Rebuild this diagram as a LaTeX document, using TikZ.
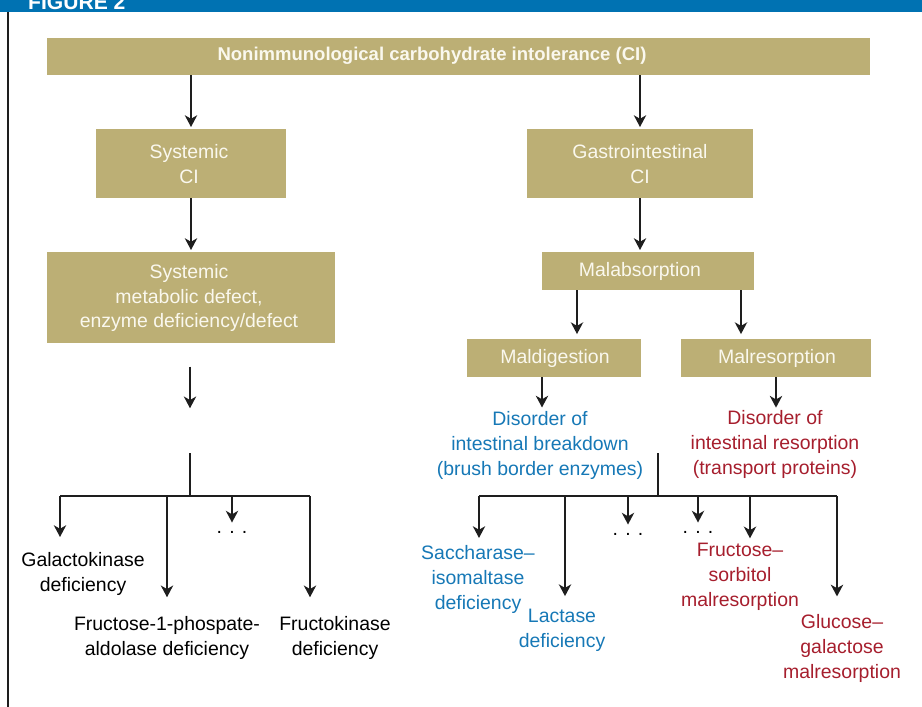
\documentclass[tikz,border=0pt]{standalone}
\usepackage{fontspec}
\setmainfont{Liberation Sans}
\usetikzlibrary{arrows.meta, positioning}
\definecolor{figBlue}{RGB}{0,114,178}
\definecolor{boxTan}{RGB}{188,175,117}
\definecolor{boxText}{RGB}{250,248,238}
\definecolor{breakBlue}{RGB}{22,120,182}
\definecolor{resorbRed}{RGB}{166,30,45}
\definecolor{lineDark}{RGB}{30,30,30}

\begin{document}
\begin{tikzpicture}[x=0.03cm, y=-0.03cm,
    tanbox/.style={fill=boxTan, inner sep=0pt},
    boxlabel/.style={text=boxText, inner sep=0pt, align=center, font=\fontsize{16.6}{21.3}\selectfont},
    leaf/.style={inner sep=0pt, align=center, anchor=north, font=\fontsize{16.6}{21.3}\selectfont},
    dotsnode/.style={inner sep=0pt, font=\fontsize{16.6}{21.3}\selectfont},
    arr/.style={-{Stealth[length=10pt, width=10.5pt, inset=3pt]}, line width=1.6pt, draw=lineDark, shorten >=1.5pt},
    ln/.style={line width=1.6pt, draw=lineDark}]
    \useasboundingbox (0,0) rectangle (922,707);

    % Figure header bar
    \fill[figBlue] (0,0) rectangle (922,12);
    \begin{scope}
        \clip (0,0) rectangle (922,12);
        \node[anchor=base west, inner sep=0pt, text=white, font=\fontsize{18}{20}\selectfont\bfseries] (figtitle) at (28,10) {FIGURE 2};
    \end{scope}
    \draw[line width=1.3pt, lineDark] (8,12) -- (8,707);

    % Top box
    \node[tanbox, minimum width=24.69cm, minimum height=1.11cm] (ci) at (458.5,56.5) {};
    \node[boxlabel, font=\fontsize{15.8}{20}\selectfont\bfseries] (citext) at (432,56) {Nonimmunological carbohydrate intolerance (CI)};

    % Systemic branch
    \node[tanbox, minimum width=5.70cm, minimum height=2.07cm] (sys) at (191,163.5) {};
    \node[boxlabel] (systext) at (189,164) {Systemic\\CI};
    \node[tanbox, minimum width=8.64cm, minimum height=2.73cm] (met) at (191,297.5) {};
    \node[boxlabel] (mettext) at (189,298) {Systemic\\metabolic defect,\\enzyme deficiency/defect};

    % Gastrointestinal branch
    \node[tanbox, minimum width=6.78cm, minimum height=2.07cm] (gi) at (640,163.5) {};
    \node[boxlabel] (gitext) at (640,164) {Gastrointestinal\\CI};
    \node[tanbox, minimum width=6.36cm, minimum height=1.14cm] (mal) at (648,271) {};
    \node[boxlabel] (maltext) at (640,271) {Malabsorption};
    \node[tanbox, minimum width=5.22cm, minimum height=1.14cm] (dig) at (554,358) {};
    \node[boxlabel] (digtext) at (555,358) {Maldigestion};
    \node[tanbox, minimum width=5.70cm, minimum height=1.14cm] (res) at (776,358) {};
    \node[boxlabel] (restext) at (777,358) {Malresorption};

    % Disorder texts
    \node[leaf, text=breakBlue] (brk) at (540,411) {Disorder of\\intestinal breakdown\\(brush border enzymes)};
    \node[leaf, text=resorbRed] (rsp) at (775,410) {Disorder of\\intestinal resorption\\(transport proteins)};

    % Left leaves
    \node[leaf] (galacto) at (83,552) {Galactokinase\\deficiency};
    \node[leaf] (fruald) at (167,616) {Fructose-1-phospate-\\aldolase deficiency};
    \node[leaf] (frukin) at (335,616) {Fructokinase\\deficiency};
    \node[dotsnode] (ldots) at (232,532) {. . .};

    % Right leaves
    \node[leaf, text=breakBlue] (sacch) at (478,545) {Saccharase--\\isomaltase\\deficiency};
    \node[leaf, text=breakBlue] (lact) at (562,609) {Lactase\\deficiency};
    \node[dotsnode] (rdotsA) at (628,534) {. . .};
    \node[dotsnode] (rdotsB) at (698,532) {. . .};
    \node[leaf, text=resorbRed] (frusor) at (740,543) {Fructose--\\sorbitol\\malresorption};
    \node[leaf, text=resorbRed] (glugal) at (842,614) {Glucose--\\galactose\\malresorption};

    % Fork points
    \coordinate (lout) at (190,410);
    \coordinate (lfork) at (190,453);
    \coordinate (lbar) at (190,496);
    \coordinate (lb1) at (60,496);
    \coordinate (lb2) at (167,496);
    \coordinate (lb3) at (232,496);
    \coordinate (lb4) at (310,496);
    \coordinate (malL) at (577,290);
    \coordinate (malR) at (741,290);
    \coordinate (digout) at (542,377);
    \coordinate (resout) at (776,377);
    \coordinate (rfork) at (658,453);
    \coordinate (rbar) at (658,496);
    \coordinate (rb1) at (479,496);
    \coordinate (rb2) at (565,496);
    \coordinate (rb3) at (628,496);
    \coordinate (rb4) at (698,496);
    \coordinate (rb5) at (750,496);
    \coordinate (rb6) at (837,496);

    % Arrows, left side
    \draw[arr] (sys.north |- ci.south) -- (sys.north);
    \draw[arr] (sys.south) -- (met.north);
    \draw[arr, shorten <=20pt] (lout |- met.south) -- (lout);
    \draw[ln] (lfork) -- (lbar);
    \draw[ln] (lb1) -- (lb4);
    \draw[arr, shorten >=12.8pt] (lb1) -- (lb1 |- galacto.north);
    \draw[arr, shorten >=16pt] (lb2) -- (lb2 |- fruald.north);
    \draw[arr, shorten >=7pt] (lb3) -- (lb3 |- ldots.north);
    \draw[arr, shorten >=16pt] (lb4) -- (lb4 |- frukin.north);

    % Arrows, right side
    \draw[arr] (gi.north |- ci.south) -- (gi.north);
    \draw[arr] (gi.south) -- (gi.south |- mal.north);
    \draw[arr, shorten >=4pt] (malL) -- (malL |- dig.north);
    \draw[arr, shorten >=4pt] (malR) -- (malR |- res.north);
    \draw[arr, shorten >=3pt] (digout) -- (digout |- brk.north);
    \draw[arr, shorten >=2pt] (resout) -- (resout |- rsp.north);
    \draw[ln] (rfork) -- (rbar);
    \draw[ln] (rb1) -- (rb6);
    \draw[arr, shorten >=6pt] (rb1) -- (rb1 |- sacch.north);
    \draw[arr, shorten >=11pt] (rb2) -- (rb2 |- lact.north);
    \draw[arr, shorten >=7pt] (rb3) -- (rb3 |- rdotsA.north);
    \draw[arr, shorten >=7pt] (rb4) -- (rb4 |- rdotsB.north);
    \draw[arr, shorten >=4pt] (rb5) -- (rb5 |- frusor.north);
    \draw[arr, shorten >=15pt] (rb6) -- (rb6 |- glugal.north);
\end{tikzpicture}
\end{document}
